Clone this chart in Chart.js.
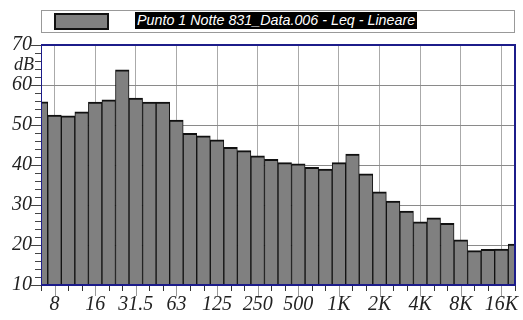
<!DOCTYPE html>
<html>
<head>
<meta charset="utf-8">
<script src="https://cdn.jsdelivr.net/npm/chart.js@4.4.1/dist/chart.umd.min.js"></script>
<style>
  html, body { margin: 0; padding: 0; background: #fff; }
  .wrap { position: relative; width: 523px; height: 320px; }
  canvas { position: absolute; left: 0; top: 0; }
  .legend-box { position: absolute; left: 41px; top: 10px; width: 474px; height: 23px; border: 1px solid #999; box-sizing: border-box; }
  .legend-swatch { position: absolute; left: 54px; top: 13px; width: 55px; height: 17px; background: #808080; border: 2px solid #111; box-sizing: border-box; }
  .legend-text { position: absolute; left: 135px; top: 12px; height: 17px; line-height: 17px; background: #000; color: #fff;
    font: italic 14.3px "Liberation Sans", Arial, sans-serif; padding: 0 2px; white-space: nowrap; }
</style>
</head>
<body>
<div class="wrap">
  <canvas id="chart" width="523" height="320"></canvas>
  <div class="legend-box"></div>
  <div class="legend-swatch"></div>
  <div class="legend-text" id="legendText"></div>
</div>
<script>
// 1/3 octave bands, 6.3 Hz .. 20 kHz
const bands = ["6.3", "8", "10", "12.5", "16", "20", "25", "31.5", "40", "50", "63", "80",
  "100", "125", "160", "200", "250", "315", "400", "500", "630", "800", "1K", "1.25K",
  "1.6K", "2K", "2.5K", "3.15K", "4K", "5K", "6.3K", "8K", "10K", "12.5K", "16K", "20K"];
const levels = [55.8, 52.5, 52.3, 53.3, 55.7, 56.3, 63.8, 56.7, 55.7, 55.7, 51.2, 47.9,
  47.3, 46.3, 44.4, 43.6, 42.3, 41.4, 40.6, 40.3, 39.4, 39.0, 40.6, 42.7,
  37.8, 33.3, 31.0, 28.5, 25.8, 26.8, 25.4, 21.3, 18.6, 18.9, 19.0, 20.2];
const octaveLabels = ["8", "16", "31.5", "63", "125", "250", "500", "1K", "2K", "4K", "8K", "16K"];
const yTicks = [10, 20, 30, 40, 50, 60, 70];
const seriesName = "Punto 1 Notte 831_Data.006 - Leq - Lineare";

document.getElementById("legendText").textContent = seriesName;

const serif = "'Liberation Serif', 'Times New Roman', serif";

// extra axis decorations: plot frame, band ticks, minor dB ticks, unit label
const frameAndTicks = {
  id: "frameAndTicks",
  afterDraw(chart) {
    const { ctx, chartArea: a, scales: { x, y } } = chart;
    ctx.save();

    // tick marks under the x axis
    bands.forEach((b, i) => {
      const px = x.getPixelForValue(i);
      const major = octaveLabels.includes(b);
      ctx.strokeStyle = major ? "#999" : "#333";
      ctx.lineWidth = 1;
      ctx.beginPath();
      ctx.moveTo(Math.round(px) + 0.5, a.bottom);
      ctx.lineTo(Math.round(px) + 0.5, a.bottom + (major ? 11 : 6));
      ctx.stroke();
    });

    // minor ticks every 2 dB on the left
    for (let v = 10; v <= 70; v += 2) {
      const py = Math.round(y.getPixelForValue(v)) + 0.5;
      const major = yTicks.includes(v);
      ctx.strokeStyle = "#444";
      ctx.beginPath();
      ctx.moveTo(a.left - (major ? 10 : 6), py);
      ctx.lineTo(a.left, py);
      ctx.stroke();
    }

    // dB unit label
    ctx.fillStyle = "#222";
    ctx.font = "italic 18px " + serif;
    ctx.textAlign = "right";
    ctx.textBaseline = "middle";
    ctx.fillText("dB", a.left - 7, y.getPixelForValue(65));

    // navy frame
    ctx.strokeStyle = "#1c1c8a";
    ctx.lineWidth = 2;
    ctx.beginPath();
    ctx.moveTo(a.left, a.top);
    ctx.lineTo(a.right, a.top);
    ctx.lineTo(a.right, a.bottom);
    ctx.lineTo(a.left, a.bottom);
    ctx.stroke();
    ctx.lineWidth = 1;
    ctx.beginPath();
    ctx.moveTo(a.left + 0.5, a.top);
    ctx.lineTo(a.left + 0.5, a.bottom);
    ctx.stroke();

    ctx.restore();
  }
};

new Chart(document.getElementById("chart").getContext("2d"), {
  type: "bar",
  data: {
    labels: bands,
    datasets: [{
      label: seriesName,
      data: levels,
      backgroundColor: "#808080",
      borderColor: "#111",
      borderWidth: { top: 2, left: 1, right: 1, bottom: 0 },
      borderSkipped: false,
      barPercentage: 1,
      categoryPercentage: 1,
      clip: 0
    }]
  },
  options: {
    responsive: false,
    animation: false,
    layout: { padding: { top: 45, right: 7, left: 0, bottom: 0 } },
    plugins: {
      legend: { display: false },
      tooltip: { enabled: false }
    },
    scales: {
      x: {
        offset: false,
        grid: {
          offset: false,
          drawTicks: false,
          color: (c) => octaveLabels.includes(bands[c.index]) ? "#aaa" : "rgba(0,0,0,0)"
        },
        border: { display: false },
        ticks: {
          autoSkip: false,
          maxRotation: 0,
          padding: 8,
          color: "#222",
          font: { family: serif, size: 20, style: "italic" },
          callback: (v, i) => octaveLabels.includes(bands[i]) ? bands[i] : ""
        },
        afterFit: (s) => { s.height = 35; }
      },
      y: {
        min: 10,
        max: 70,
        grid: {
          drawTicks: false,
          color: (c) => (c.tick && (c.tick.value === 10 || c.tick.value === 70)) ? "rgba(0,0,0,0)" : "#8a8a8a"
        },
        border: { display: false },
        ticks: {
          stepSize: 10,
          padding: 9,
          color: "#222",
          font: { family: serif, size: 20, style: "italic" }
        },
        afterFit: (s) => { s.width = 41; }
      }
    }
  },
  plugins: [frameAndTicks]
});
</script>
</body>
</html>
